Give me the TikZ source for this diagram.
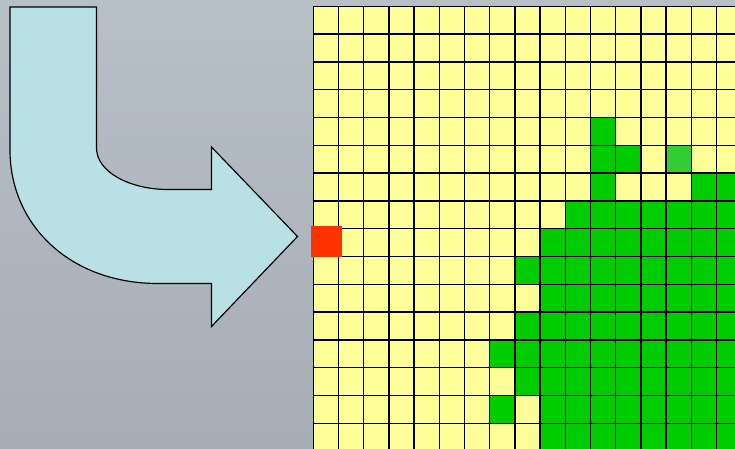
\documentclass[tikz,border=0pt]{standalone}
\usetikzlibrary{positioning}
\definecolor{CellYellow}{HTML}{FFFF99}
\definecolor{CellGreen}{HTML}{00CC00}
\definecolor{CellLight}{HTML}{33CC33}
\definecolor{CellRed}{HTML}{FF3300}
\definecolor{ArrowBlue}{HTML}{B9E1E5}
\definecolor{BackTop}{HTML}{B7BFC7}
\definecolor{BackBottom}{HTML}{A7ADB7}
\begin{document}
\begin{tikzpicture}[x=0.03cm,y=-0.03cm,
    gridline/.style={black,line width=1.25pt}]
    \useasboundingbox (0,0) rectangle (735,448);
    \shade[top color=BackTop,bottom color=BackBottom] (0,0) rectangle (735,448);
    % bent arrow
    \draw[fill=ArrowBlue,line width=1pt,line join=miter]
      (10,7) -- (96.5,7) -- (96.5,148)
      .. controls (96.5,172) and (130,189.5) .. (168,189.5)
      -- (211.5,189.5) -- (211.5,147) -- (297.5,236.5) -- (211.5,326.5)
      -- (211.5,283.5) -- (158,283.5)
      .. controls (70,283.5) and (10,225) .. (10,150) -- cycle;
    % grid of cells
    \begin{scope}
      \clip (0,0) rectangle (735,448);
      \begin{scope}[shift={(313.3,6.3)}]
      \begin{scope}[x=0.756cm,y=-0.834cm]
        \fill[CellYellow] (0,0) rectangle (17,16);
        \foreach \row/\first in {7/10,8/9,9/8,10/9,11/8,12/7,13/8,14/9,15/9}
          \fill[CellGreen] (\first,\row) rectangle (17,\row+1);
        \foreach \col/\row in {11/4,11/5,12/5,11/6,15/6,16/6,7/14}
          \fill[CellGreen] (\col,\row) rectangle ++(1,1);
        \fill[CellLight] (14,5) rectangle ++(1,1);
        \foreach \i in {0,...,17}
          \draw[gridline] (\i,0) -- (\i,16);
        \foreach \j in {0,...,16}
          \draw[gridline] (0,\j) -- (17,\j);
      \end{scope}
      \end{scope}
    \end{scope}
    % marked cell
    \fill[CellRed] (311,225.5) rectangle (341.5,257);
  \end{tikzpicture}
\end{document}
